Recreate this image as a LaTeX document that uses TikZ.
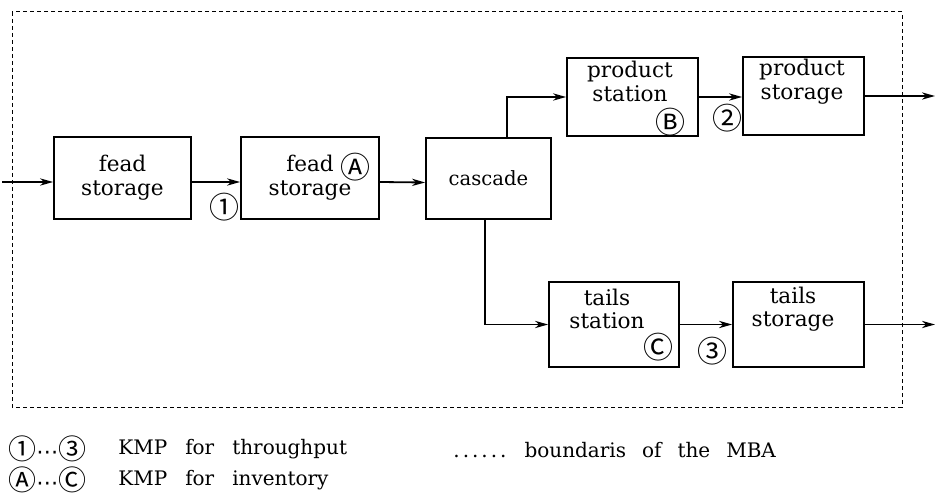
\documentclass[tikz,border=0pt]{standalone}
\usepackage{fontspec}
\setmainfont{DejaVu Serif}
\newfontfamily\circfont{Noto Sans CJK SC}
\newfontfamily\dotfont{DejaVu Sans}
\usetikzlibrary{arrows.meta}
\begin{document}
\begin{tikzpicture}[x=0.5pt,y=-0.5pt,
  blk/.style={draw, line width=0.9pt, inner sep=0pt, align=center,
    font=\fontsize{10.8}{12}\selectfont},
  txt/.style={inner sep=0pt, align=center, font=\fontsize{10.8}{11.8}\selectfont},
  flow/.style={line width=0.9pt, -{Stealth[length=6.5pt,width=3.6pt,inset=2pt]}},
  circ/.style={inner sep=0pt, font=\circfont\fontsize{15}{15}\selectfont},
  leg/.style={inner sep=0pt, anchor=west, font=\fontsize{10}{12}\selectfont},
  legc/.style={inner sep=0pt, anchor=west, font=\circfont\fontsize{14}{14}\selectfont},
  mba/.style={line width=0.5pt, dash pattern=on 2pt off 1.5pt}
]
\useasboundingbox (0,0) rectangle (936,502);
% MBA boundary
\draw[mba] (12,12) rectangle (902,407);

% boxes
\node[blk, minimum width=68.5pt, minimum height=41pt] (fs1) at (122.5,178) {fead\\storage};
\node[blk, minimum width=69pt, minimum height=41pt] (fs2) at (310,178) {fead\\storage};
\node[blk, minimum width=62.5pt, minimum height=40.5pt, font=\fontsize{9.8}{12}\selectfont] (cas) at (488.5,178.5) {cascade};
\node[blk, minimum width=65.5pt, minimum height=39pt] (ps) at (632.5,97) {};
\node[blk, minimum width=60.5pt, minimum height=39pt] (pst) at (803.5,96) {};
\node[blk, minimum width=65pt, minimum height=42.5pt] (ts) at (614,324.5) {};
\node[blk, minimum width=65.5pt, minimum height=42.5pt] (tst) at (798.5,324.5) {};

% texts of the upper/lower boxes
\node[txt] (pstxt) at (630,81.5) {product\\station};
\node[txt] (psttxt) at (802,81.5) {product\\storage};
\node[txt] (tstxt) at (607,309) {tails\\station};
\node[txt] (tsttxt) at (793,309) {tails\\storage};

% KMP marks
\node[circ] (mA) at (355,167) {Ⓐ};
\node[circ] (mB) at (670,122) {Ⓑ};
\node[circ] (mC) at (658,347) {Ⓒ};
\node[circ] (m1) at (224,207) {①};
\node[circ] (m2) at (727,118) {②};
\node[circ] (m3) at (712,351) {③};

% connectors
\coordinate (in) at (2,182);
\coordinate (out1) at (935,96);
\coordinate (out2) at (935,324.5);
\draw[flow] (in) -- ([yshift=-2pt]fs1.west);
\draw[flow] ([yshift=-2pt]fs1.east) -- ([yshift=-2pt]fs2.west);
\draw[flow] ([yshift=-2pt]fs2.east) -- ([yshift=-2pt]cas.west);
\draw[flow] ([xshift=9.25pt]cas.north) |- (ps.west);
\draw[flow] ([xshift=-1.75pt]cas.south) |- (ts.west);
\draw[flow] (ps.east) -- (ps.east -| pst.west);
\draw[flow] (pst.east) -- (out1);
\draw[flow] (ts.east) -- (tst.west);
\draw[flow] (tst.east) -- (out2);

% legend
\node[legc] (l1) at (8,449) {①{\dotfont\fontsize{11}{11}\selectfont ⋯}③};
\node[legc] (l2) at (8,480) {Ⓐ{\dotfont\fontsize{11}{11}\selectfont ⋯}Ⓒ};
\node[leg] (t1) at (118,449) {KMP\hspace{9pt}for\hspace{9pt}throughput};
\node[leg] (t2) at (118,480) {KMP\hspace{9pt}for\hspace{9pt}inventory};
\node[leg] (t3) at (453,450) {.\kern1.5pt.\kern1.5pt.\kern1.5pt.\kern1.5pt.\kern1.5pt.\hspace{9pt}boundaris\hspace{8pt}of\hspace{8pt}the\hspace{8pt}MBA};
\end{tikzpicture}
\end{document}
